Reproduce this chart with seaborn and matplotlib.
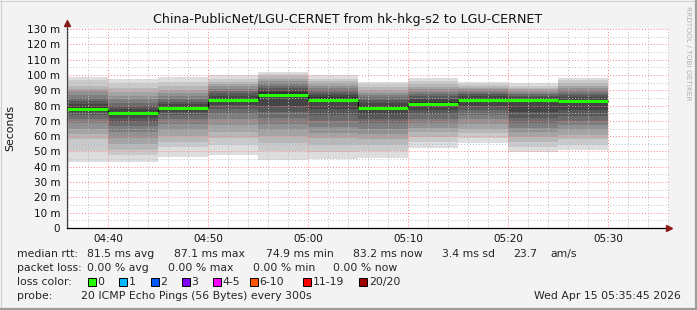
import matplotlib
matplotlib.use("Agg")
import matplotlib.pyplot as plt
from matplotlib.lines import Line2D
from matplotlib.patches import Rectangle
import numpy as np
import pandas as pd
import seaborn as sns

# ---------------- data ----------------
title = "China-PublicNet/LGU-CERNET from hk-hkg-s2 to LGU-CERNET"
bar_end = ["04:40", "04:45", "04:50", "04:55", "05:00", "05:05",
           "05:10", "05:15", "05:20", "05:25", "05:30"]
median_ms = [78.0, 74.9, 78.6, 83.9, 87.1, 83.9, 78.2, 81.0, 83.9, 83.4, 83.2]

pings_1 = [43.3, 50.5, 58.0, 61.5, 65.0, 68.5, 71.0, 73.5, 75.5, 77.0,
           79.0, 81.0, 83.0, 85.0, 87.0, 89.5, 91.0, 93.0, 96.5, 98.9]
pings_2 = [43.3, 48.0, 51.0, 55.0, 59.0, 63.0, 66.5, 69.5, 72.0, 74.0,
           75.8, 77.5, 79.5, 81.5, 84.0, 86.5, 89.0, 91.5, 94.5, 97.2]
pings_3 = [46.6, 53.0, 56.0, 60.0, 64.0, 68.0, 71.5, 74.0, 76.0, 77.8,
           79.4, 81.0, 82.5, 84.0, 86.0, 88.0, 90.0, 92.5, 95.5, 98.5]
pings_4 = [47.7, 54.0, 58.5, 63.0, 67.0, 71.0, 74.5, 77.5, 80.5, 83.0,
           84.8, 86.5, 88.0, 89.5, 91.0, 92.5, 94.0, 95.5, 97.5, 100.0]
pings_5 = [44.4, 50.0, 55.5, 60.0, 64.0, 68.0, 72.0, 76.0, 80.0, 85.5,
           88.7, 90.0, 91.5, 93.0, 94.5, 96.0, 97.5, 99.0, 100.5, 102.2]
pings_6 = [44.9, 49.5, 54.0, 58.5, 62.0, 66.0, 70.0, 74.0, 78.0, 82.5,
           85.3, 87.0, 88.5, 90.0, 91.5, 93.0, 94.5, 96.0, 97.5, 99.8]
pings_7 = [45.5, 50.0, 54.0, 58.0, 61.5, 65.0, 68.5, 71.5, 74.5, 77.0,
           79.4, 81.5, 83.5, 85.5, 87.0, 88.5, 90.0, 92.0, 94.0, 95.6]
pings_8 = [52.3, 56.0, 59.5, 62.5, 65.5, 68.5, 71.5, 74.5, 77.0, 79.5,
           82.5, 84.5, 86.0, 87.5, 89.0, 90.5, 92.0, 94.0, 96.0, 97.8]
pings_9 = [55.8, 59.0, 62.0, 65.0, 68.0, 71.0, 74.0, 77.0, 80.0, 83.2,
           84.6, 86.0, 87.5, 88.5, 89.5, 90.5, 91.5, 92.5, 94.0, 95.6]
pings_10 = [49.9, 53.0, 56.5, 59.5, 62.5, 65.5, 68.5, 72.0, 76.0, 82.5,
            84.3, 85.5, 86.5, 87.5, 88.5, 89.5, 90.5, 91.5, 93.0, 94.6]
pings_11 = [51.0, 54.5, 58.0, 61.0, 64.0, 67.0, 70.0, 73.0, 77.0, 82.5,
            83.9, 85.5, 87.0, 88.5, 90.0, 91.5, 93.0, 94.5, 96.5, 98.2]
pings = [pings_1, pings_2, pings_3, pings_4, pings_5, pings_6,
         pings_7, pings_8, pings_9, pings_10, pings_11]

y_ticks = [0, 10, 20, 30, 40, 50, 60, 70, 80, 90, 100, 110, 120, 130]
y_tick_labels = ["0", "10 m", "20 m", "30 m", "40 m", "50 m", "60 m", "70 m",
                 "80 m", "90 m", "100 m", "110 m", "120 m", "130 m"]
x_tick_labels = ["04:40", "04:50", "05:00", "05:10", "05:20", "05:30"]

loss_labels = ["0", "1", "2", "3", "4-5", "6-10", "11-19", "20/20"]
loss_colors = ["#26ff00", "#00b8ff", "#0059ff", "#7e00ff",
               "#ff00ff", "#ff5500", "#ff0000", "#a10000"]

stats_rtt = ["81.5 ms avg", "87.1 ms max", "74.9 ms min", "83.2 ms now",
             "3.4 ms sd", "23.7", "am/s"]
stats_loss = ["0.00 % avg", "0.00 % max", "0.00 % min", "0.00 % now"]
probe_text = "20 ICMP Echo Pings (56 Bytes) every 300s"
date_text = "Wed Apr 15 05:35:45 2026"

# ---------------- helpers ----------------
def to_min(s):
    h, m = s.split(":")
    return (int(h) - 4) * 60 + int(m)

ends = np.array([to_min(s) for s in bar_end], dtype=float)
starts = ends - 5
tick_pos = [to_min(s) for s in x_tick_labels]

W, H = 697, 310
sns.set_style("white")
plt.rcParams["font.family"] = ["DejaVu Sans"]
fig = plt.figure(figsize=(W / 100, H / 100), dpi=100)
fig.patch.set_facecolor("#f3f3f3")

L, R, T, B = 67, 669, 29, 228
ax = fig.add_axes([L / W, 1 - B / H, (R - L) / W, (B - T) / H])
ax.set_facecolor("white")

# smoke
half = 10
for i in range(half):
    g = int(190 / half * (half - (i + 1))) + 50
    col = "#%02x%02x%02x" % (g, g, g)
    lo = np.array([p[i] for p in pings])
    hi = np.array([p[len(p) - 1 - i] for p in pings])
    ax.bar(starts, hi - lo, bottom=lo, width=5, align="edge",
           color=col, linewidth=0, zorder=1 + i * 0.01)

# median line: black step connectors + green segments
df = pd.DataFrame({"t": list(starts) + [ends[-1]],
                   "m": list(median_ms) + [median_ms[-1]]})
sns.lineplot(data=df, x="t", y="m", ax=ax, drawstyle="steps-post",
             color="black", linewidth=0.8, zorder=3, estimator=None)
ax.hlines(median_ms, starts, ends, colors=loss_colors[0], linewidth=2.2, zorder=4)

# axes limits and ticks
ax.set_xlim(35.9, 96.1)
ax.set_ylim(0, 130)
ax.set_yticks(y_ticks)
ax.set_yticklabels(y_tick_labels)
ax.set_yticks([5 + t for t in y_ticks[:-1]], minor=True)
ax.set_xticks(tick_pos)
ax.set_xticklabels(x_tick_labels)
ax.set_xticks([t for t in range(36, 97, 2)], minor=True)
ax.set_xlabel("")
ax.set_ylabel("")

ax.tick_params(axis="both", which="major", direction="out", length=3,
               width=0.7, color="#555555", labelsize=7.5, pad=2,
               labelcolor="#111111")
ax.tick_params(axis="x", which="major", pad=1.5)
ax.tick_params(axis="both", which="minor", direction="out", length=2,
               width=0.6, color="#888888")
ax.tick_params(axis="y", which="minor", length=0)

ax.set_axisbelow(False)
ax.grid(True, which="minor", color="#bdbdbd", linestyle=(0, (1, 2)), linewidth=0.7,
        zorder=5)
ax.grid(True, which="major", color="#ff8080", linestyle=(0, (1, 2)), linewidth=0.7,
        zorder=6)
for gl in ax.get_xgridlines() + ax.get_ygridlines():
    gl.set_zorder(6)

for s in ["top", "right"]:
    ax.spines[s].set_visible(False)
ax.spines["left"].set_color("#444444")
ax.spines["left"].set_linewidth(0.9)
ax.spines["bottom"].set_color("black")
ax.spines["bottom"].set_linewidth(0.9)
ax.spines["left"].set_zorder(7)
ax.spines["bottom"].set_zorder(7)

# axis extensions with arrows
ax.plot([0, 0], [1, 1 + 6 / (B - T)], transform=ax.transAxes, color="#444444",
        lw=0.9, clip_on=False, zorder=7)
ax.plot([0], [1 + 6 / (B - T)], marker="^", markersize=4.5, color="#8b1a1a",
        transform=ax.transAxes, clip_on=False, zorder=8)
ax.plot([1], [0], marker=">", markersize=4.5, color="#8b1a1a",
        transform=ax.transAxes, clip_on=False, zorder=8)

# ---------------- texts ----------------
def px(x, y):
    return x / W, 1 - y / H

fs = 7.8
fig.text(*px(348, 19), title, ha="center", va="center", fontsize=9.1,
         color="#111111")
fig.text(*px(10, 128), "Seconds", rotation=90, ha="center", va="center",
         fontsize=7.8, color="#111111")
fig.text(*px(688, 53), "RRDTOOL / TOBI OETIKER", rotation=270, ha="center",
         va="center", fontsize=5.3, color="#b0b0b0")

rows_y = [254.3, 268.3, 282.0, 296.0]
fig.text(*px(16.7, rows_y[0]), "median rtt:", ha="left", va="center", fontsize=fs)
for xx, t in zip([87.3, 174.3, 265.7, 352.7, 441.7, 513.3, 550.0], stats_rtt):
    fig.text(*px(xx, rows_y[0]), t, ha="left", va="center", fontsize=fs)

fig.text(*px(16.7, rows_y[1]), "packet loss:", ha="left", va="center", fontsize=fs)
for xx, t in zip([87.3, 168.3, 253.3, 333.3], stats_loss):
    fig.text(*px(xx, rows_y[1]), t, ha="left", va="center", fontsize=fs)

fig.text(*px(16.7, rows_y[2]), "loss color:", ha="left", va="center", fontsize=fs)
for xx, lab, col in zip([88.3, 119.0, 150.7, 181.7, 212.7, 250.0, 303.3, 359.3],
                        loss_labels, loss_colors):
    x0, y0 = px(xx, rows_y[2] + 4)
    fig.add_artist(Rectangle((x0, y0), 8 / W, 8 / H, transform=fig.transFigure,
                             facecolor=col, edgecolor="black", linewidth=0.7))
    fig.text(*px(xx + 9.4, rows_y[2]), lab, ha="left", va="center", fontsize=fs)

fig.text(*px(16.7, rows_y[3]), "probe:", ha="left", va="center", fontsize=fs)
fig.text(*px(80.7, rows_y[3]), probe_text, ha="left", va="center", fontsize=fs)
fig.text(*px(681, rows_y[3]), date_text, ha="right", va="center", fontsize=fs)

# frame
fig.add_artist(Line2D([0, 1], [1 - 0.5 / H, 1 - 0.5 / H], transform=fig.transFigure,
                      color="#d0d0d0", lw=0.8))
fig.add_artist(Line2D([0.5 / W, 0.5 / W], [0, 1], transform=fig.transFigure,
                      color="#d0d0d0", lw=0.8))
fig.add_artist(Line2D([0, 1], [1 / H, 1 / H], transform=fig.transFigure,
                      color="#9c9c9c", lw=1.6))
fig.add_artist(Line2D([1 - 1 / W, 1 - 1 / W], [0, 1], transform=fig.transFigure,
                      color="#9c9c9c", lw=1.6))

fig.savefig("out.png", dpi=100, facecolor=fig.get_facecolor())
